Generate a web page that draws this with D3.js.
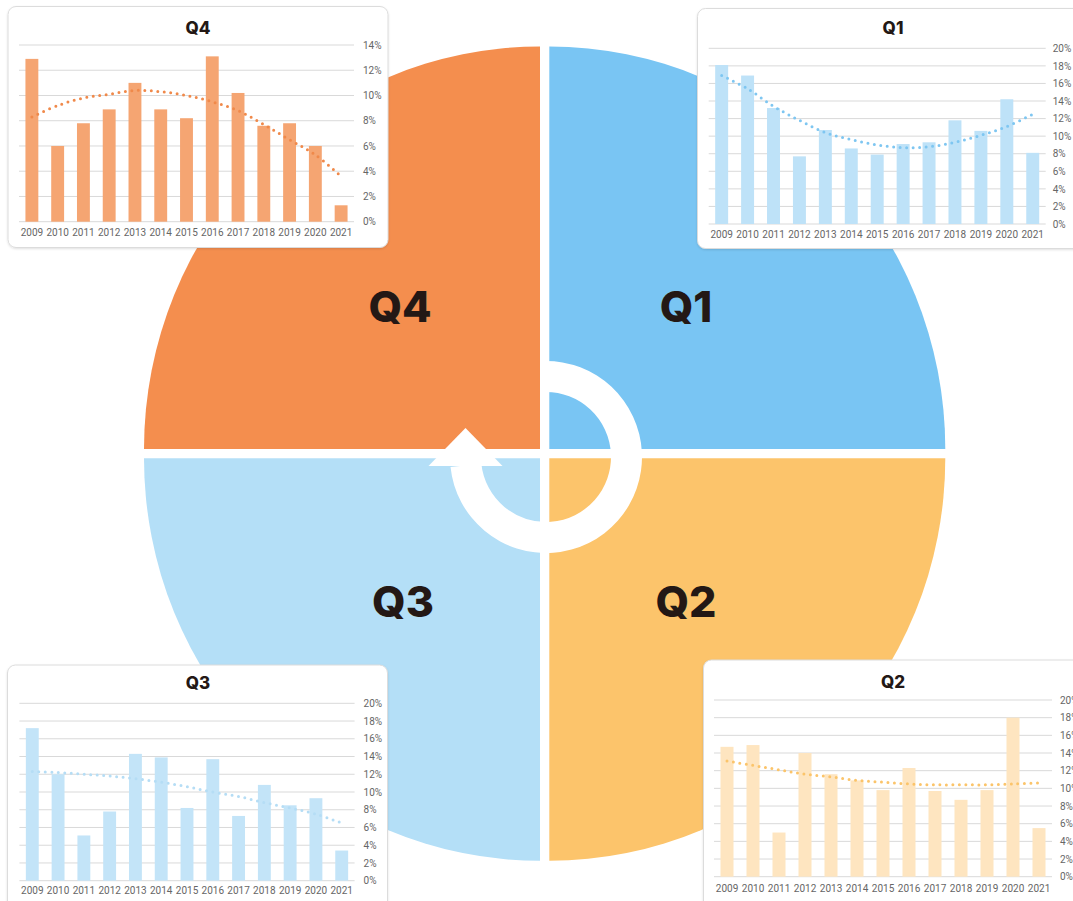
<!DOCTYPE html>
<html><head><meta charset="utf-8">
<script src="https://cdn.jsdelivr.net/npm/d3@7"></script>
<style>
html,body{margin:0;padding:0;background:#fff;}
svg{display:block;}
</style></head>
<body>
<svg id="chart" width="1073" height="901"></svg>
<script>
// ---------- data ----------
const years = ["2009","2010","2011","2012","2013","2014","2015","2016","2017","2018","2019","2020","2021"];
const quarterLabels = ["Q1","Q2","Q3","Q4"];
const q1Values = [18.1,16.9,13.2,7.7,10.7,8.6,7.9,9.1,9.3,11.8,10.6,14.2,8.1];
const q1Trend  = [16.9,15.4,13.4,11.8,10.4,9.6,9.0,8.7,8.8,9.3,10.1,11.1,12.5];
const q2Values = [14.7,14.9,5.0,14.0,11.6,10.9,9.8,12.3,9.7,8.7,9.8,18.0,5.5];
const q2Trend  = [13.1,12.6,12.1,11.6,11.3,10.9,10.7,10.5,10.4,10.4,10.4,10.5,10.6];
const q3Values = [17.2,12.0,5.1,7.8,14.3,13.9,8.2,13.7,7.3,10.8,8.5,9.3,3.4];
const q3Trend  = [12.3,12.2,12.0,11.8,11.5,11.1,10.6,10.0,9.5,8.8,8.2,7.5,6.5];
const q4Values = [12.9,6.0,7.8,8.9,11.0,8.9,8.2,13.1,10.2,7.6,7.8,6.0,1.3];
const q4Trend  = [8.3,9.2,9.8,10.1,10.4,10.3,10.0,9.5,8.8,7.7,6.5,5.3,3.6];
const ticks14 = [0,2,4,6,8,10,12,14];
const ticks20 = [0,2,4,6,8,10,12,14,16,18,20];

// ---------- styles ----------
const colors = {
  Q1:{big:"#79C5F3", bar:"#BEE2F8", trend:"#7EC6F1"},
  Q2:{big:"#FCC46B", bar:"#FEE5C0", trend:"#FBC46A"},
  Q3:{big:"#B4DFF7", bar:"#C3E4F8", trend:"#B5DDF5"},
  Q4:{big:"#F48E4E", bar:"#F5A572", trend:"#F0894A"}
};
const svg = d3.select("#chart");
svg.append("rect").attr("width",1073).attr("height",901).attr("fill","#fff");

// ---------- big quartered ellipse ----------
const gapL = 540, gapR = 549.3, gapT = 449, gapB = 458.3;
const rx = 396, ry = 402.5;
const quadArc = d3.arc().innerRadius(0).outerRadius(1);
const quads = [
  {q:"Q1", cx:gapR, cy:gapT, a0:0, a1:Math.PI/2},
  {q:"Q2", cx:gapR, cy:gapB, a0:Math.PI/2, a1:Math.PI},
  {q:"Q3", cx:gapL, cy:gapB, a0:Math.PI, a1:3*Math.PI/2},
  {q:"Q4", cx:gapL, cy:gapT, a0:3*Math.PI/2, a1:2*Math.PI}
];
const bg = svg.append("g");
quads.forEach(d=>{
  bg.append("path")
    .attr("transform",`translate(${d.cx},${d.cy}) scale(${rx},${ry})`)
    .attr("d", quadArc({startAngle:d.a0, endAngle:d.a1}))
    .attr("fill", colors[d.q].big);
});

// big labels
const bigPos = {Q4:[400,306],Q1:[686,306],Q3:[403,601],Q2:[686,601]};
quarterLabels.forEach(q=>{
  bg.append("text").attr("x",bigPos[q][0]).attr("y",bigPos[q][1])
    .attr("text-anchor","middle").attr("dominant-baseline","central")
    .attr("font-family","Inter, 'Noto Sans', sans-serif").attr("font-weight",800)
    .attr("font-size",43).attr("fill","#231815").text(q);
});

// center ring arrow
const rc = [546,457], rIn = 65, rOut = 96;
bg.append("path").attr("transform",`translate(${rc[0]},${rc[1]})`)
  .attr("d", d3.arc().innerRadius(rIn).outerRadius(rOut)({startAngle:-0.02, endAngle:264*Math.PI/180}))
  .attr("fill","#fff");
const mid = rc[0]-(rIn+rOut)/2;
bg.append("path")
  .attr("d",`M${mid},428 L${mid-37},466 L${mid+37},466 Z`)
  .attr("fill","#fff");

// ---------- panels ----------
const panels = [
  {q:"Q4", box:[8,6.5,380,241], title:[198,28], x:[19,354], y0:221.7, y1:45, max:14, ticks:ticks14, vals:q4Values, trend:q4Trend, yearDy:12.5, labX:9},
  {q:"Q1", box:[697.5,8.5,400,240], title:[893,28], x:[708.7,1045.7], y0:224, y1:48.3, max:20, ticks:ticks20, vals:q1Values, trend:q1Trend, yearDy:12, labX:7},
  {q:"Q3", box:[7.5,665,380,260], title:[198,683], x:[19.4,354.6], y0:880.7, y1:703.3, max:20, ticks:ticks20, vals:q3Values, trend:q3Trend, yearDy:11.5, labX:9},
  {q:"Q2", box:[703.5,660,400,260], title:[893,682], x:[714,1052], y0:876.7, y1:700, max:20, ticks:ticks20, vals:q2Values, trend:q2Trend, yearDy:13, labX:8}
];

const defs = svg.append("defs");
const f = defs.append("filter").attr("id","sh").attr("x","-10%").attr("y","-10%").attr("width","120%").attr("height","120%");
f.append("feDropShadow").attr("dx",0).attr("dy",1).attr("stdDeviation",1.2).attr("flood-color","#000").attr("flood-opacity",0.12);

panels.forEach(p=>{
  const g = svg.append("g");
  g.append("rect").attr("x",p.box[0]).attr("y",p.box[1]).attr("width",p.box[2]).attr("height",p.box[3])
    .attr("rx",8).attr("fill","#fff").attr("stroke","#dcdcdc").attr("stroke-width",1).attr("filter","url(#sh)");
  g.append("text").attr("x",p.title[0]).attr("y",p.title[1]).attr("text-anchor","middle").attr("dominant-baseline","central")
    .attr("font-family","Inter, 'Noto Sans', sans-serif").attr("font-weight",800).attr("font-size",17)
    .attr("fill","#231815").text(p.q);

  const x = d3.scaleBand().domain(years).range(p.x).paddingInner(0.5).paddingOuter(0.25);
  const y = d3.scaleLinear().domain([0,p.max]).range([p.y0,p.y1]);

  // gridlines
  g.append("g").selectAll("line").data(p.ticks).join("line")
    .attr("x1",p.x[0]).attr("x2",p.x[1]).attr("y1",d=>y(d)).attr("y2",d=>y(d))
    .attr("stroke","#d9d9d9").attr("stroke-width",1);

  // right axis
  const ax = g.append("g").attr("transform",`translate(${p.x[1]},0)`)
    .call(d3.axisRight(y).tickValues(p.ticks).tickFormat(d=>d+"%").tickSize(0).tickPadding(p.labX));
  ax.select(".domain").remove();
  ax.selectAll("text").attr("font-family","Roboto, sans-serif").attr("font-size",10).attr("fill","#666");

  // bottom axis
  const bx = g.append("g").attr("transform",`translate(0,${p.y0})`)
    .call(d3.axisBottom(x).tickSize(0).tickPadding(p.yearDy-5));
  bx.select(".domain").remove();
  bx.selectAll("text").attr("font-family","Roboto, sans-serif").attr("font-size",10).attr("fill","#666");

  // bars
  g.append("g").selectAll("rect").data(p.vals).join("rect")
    .attr("x",(d,i)=>x(years[i])).attr("width",x.bandwidth())
    .attr("y",d=>y(d)).attr("height",d=>y(0)-y(d))
    .attr("fill",colors[p.q].bar);

  // trend
  const line = d3.line().x((d,i)=>x(years[i])+x.bandwidth()/2).y(d=>y(d)).curve(d3.curveCatmullRom);
  g.append("path").attr("d",line(p.trend)).attr("fill","none")
    .attr("stroke",colors[p.q].trend).attr("stroke-width",3)
    .attr("stroke-linecap","round").attr("stroke-dasharray","0 6.5");
});
</script>
</body></html>
